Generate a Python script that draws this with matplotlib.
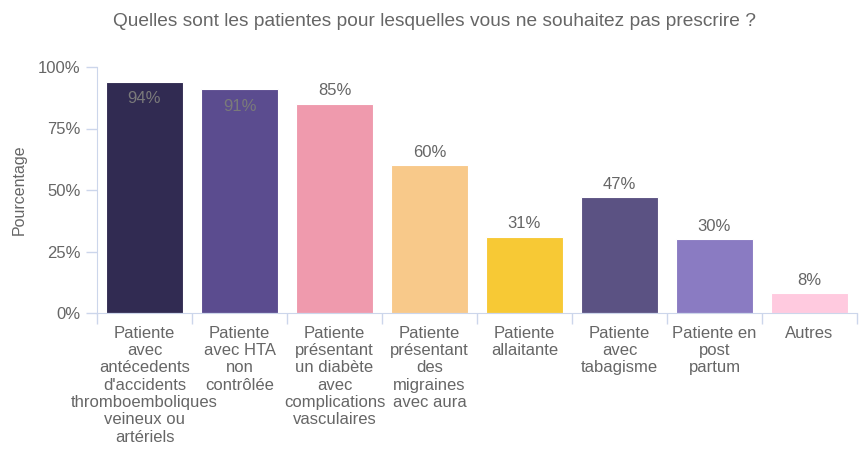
import matplotlib.pyplot as plt

plt.rcParams['font.family'] = ['Liberation Sans', 'DejaVu Sans']

categories = [
    "Patiente\navec\nantécedents\nd'accidents\nthromboemboliques\nveineux ou\nartériels",
    "Patiente\navec HTA\nnon\ncontrôlée",
    "Patiente\nprésentant\nun diabète\navec\ncomplications\nvasculaires",
    "Patiente\nprésentant\ndes\nmigraines\navec aura",
    "Patiente\nallaitante",
    "Patiente\navec\ntabagisme",
    "Patiente en\npost\npartum",
    "Autres",
]
values = [94, 91, 85, 60, 31, 47, 30, 8]
colors = ['#312b52', '#5b4c8f', '#ef9aad', '#f8c98a', '#f7c935', '#5b5283', '#8a7bc2', '#ffcadf']
inside = [True, True, False, False, False, False, False, False]

text_col = '#666666'
axis_col = '#ccd6eb'

fig = plt.figure(figsize=(8.61, 4.62), dpi=100)
ax = fig.add_axes([97 / 861, 149 / 462, 760 / 861, 246 / 462])

x = list(range(len(values)))
ax.bar(x, values, width=0.81, color=colors, edgecolor='white', linewidth=0.8)

for xi, v, ins in zip(x, values, inside):
    if ins:
        ax.annotate(f"{v}%", (xi, v), xytext=(0, -17), textcoords='offset pixels',
                    ha='center', va='center', fontsize=12, color='#7a7a7a')
    else:
        ax.annotate(f"{v}%", (xi, v), xytext=(0, 13), textcoords='offset pixels',
                    ha='center', va='center', fontsize=12, color=text_col)

ax.set_xlim(-0.5, len(values) - 0.5)
ax.set_ylim(0, 100)
ax.set_yticks([0, 25, 50, 75, 100])
ax.set_yticklabels(['0%', '25%', '50%', '75%', '100%'])
ax.set_xticks(x)
ax.set_xticklabels(categories, fontsize=12, color=text_col, linespacing=1.2, va='top')
ax.tick_params(axis='x', length=0, pad=9)
ax.set_xticks([i - 0.5 for i in range(len(values) + 1)], minor=True)
ax.tick_params(axis='x', which='minor', length=8, color=axis_col, width=1)
ax.tick_params(axis='y', length=8, color=axis_col, width=1, labelsize=12, labelcolor=text_col, pad=4)

for side in ['top', 'right']:
    ax.spines[side].set_visible(False)
ax.spines['left'].set_color(axis_col)
ax.spines['bottom'].set_color(axis_col)

ax.set_ylabel('Pourcentage', fontsize=11.5, color=text_col, labelpad=8)
fig.text(435 / 861, 1 - 22 / 462, 'Quelles sont les patientes pour lesquelles vous ne souhaitez pas prescrire ?',
         ha='center', va='center', fontsize=13.8, color=text_col)

fig.savefig('out.png', dpi=100)
